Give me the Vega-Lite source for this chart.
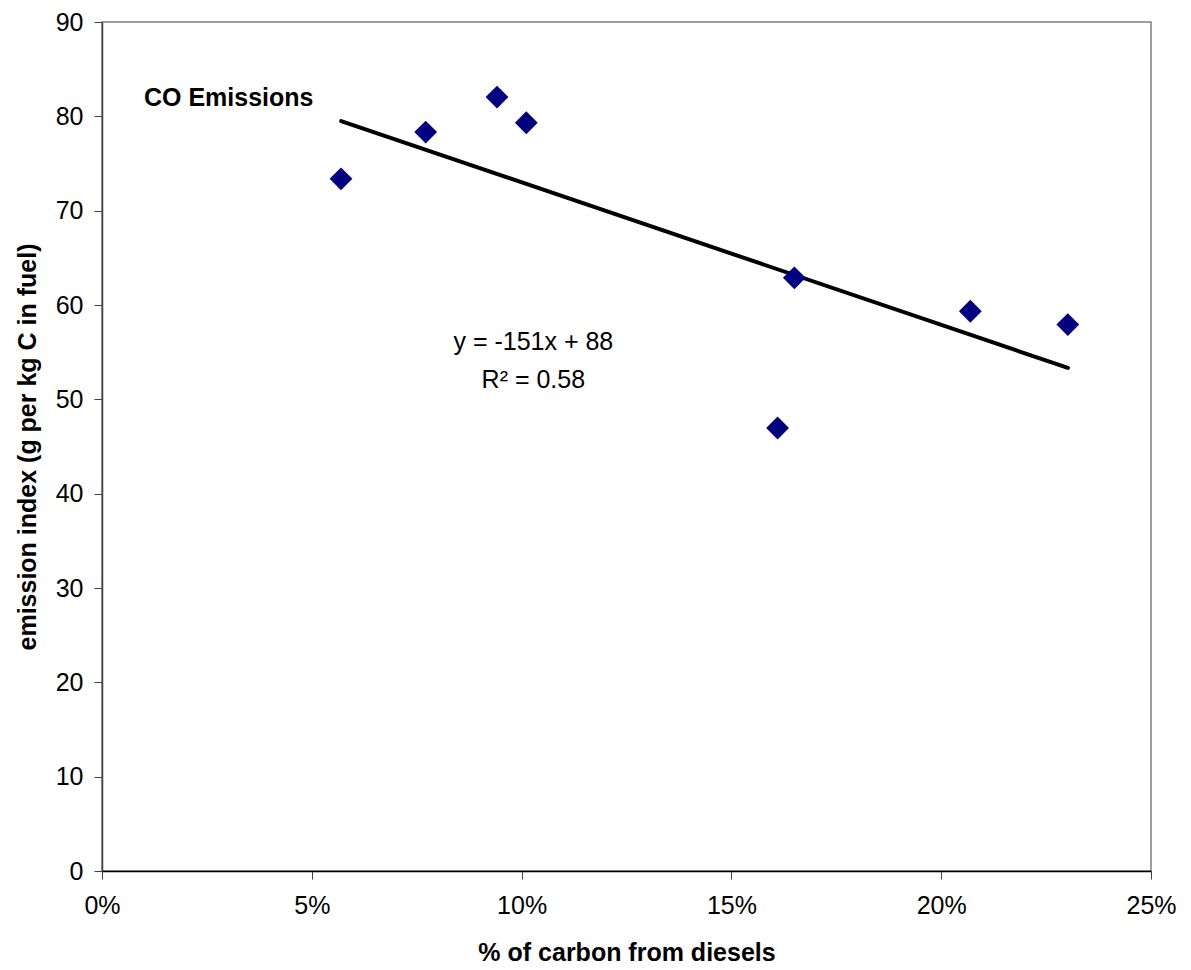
{
  "$schema": "https://vega.github.io/schema/vega-lite/v6.json",
  "width": 1049,
  "height": 849,
  "autosize": {"type": "none"},
  "padding": {"left": 102, "top": 22, "right": 40, "bottom": 99},
  "background": "white",
  "config": {
    "font": "Liberation Sans",
    "view": {"stroke": "#808080", "strokeWidth": 1.5},
    "axis": {"grid": false, "labelFont": "Liberation Sans", "titleFont": "Liberation Sans", "labelFontSize": 25, "titleFontSize": 25, "labelColor": "black", "titleColor": "black", "tickSize": 8, "tickColor": "#404040", "labelFontWeight": "normal", "titleFontWeight": "bold", "labelFlush": false}
  },
  "datasets": {
    "points": [
      {"share": 0.05696, "ei": 73.38},
      {"share": 0.07714, "ei": 78.33},
      {"share": 0.09414, "ei": 82.04},
      {"share": 0.10112, "ei": 79.32},
      {"share": 0.16500, "ei": 62.88},
      {"share": 0.16101, "ei": 46.96},
      {"share": 0.20694, "ei": 59.34},
      {"share": 0.23017, "ei": 57.92}
    ],
    "trend": [
      {"share": 0.0570, "ei": 79.5},
      {"share": 0.2302, "ei": 53.33}
    ],
    "labels": [
      {"share": 0.0100, "ei": 81.1, "txt": "CO Emissions", "kind": "title"},
      {"share": 0.1028, "ei": 55.2, "txt": "y = -151x + 88", "kind": "eq"},
      {"share": 0.1028, "ei": 51.2, "txt": "R² = 0.58", "kind": "eq"}
    ]
  },
  "layer": [
    {
      "data": {"name": "trend"},
      "mark": {"type": "line", "color": "black", "strokeWidth": 4, "strokeCap": "round"},
      "encoding": {
        "x": {"field": "share", "type": "quantitative", "scale": {"domain": [0, 0.25], "nice": false, "zero": false},
          "axis": {"title": "% of carbon from diesels", "format": ".0%", "values": [0, 0.05, 0.1, 0.15, 0.2, 0.25], "domainColor": "black", "domainWidth": 1.5, "labelPadding": 14, "titleY": 89, "titleBaseline": "alphabetic"}},
        "y": {"field": "ei", "type": "quantitative", "scale": {"domain": [0, 90], "nice": false},
          "axis": {"title": "emission index (g per kg C in fuel)", "values": [0, 10, 20, 30, 40, 50, 60, 70, 80, 90], "domainColor": "#404040", "domainWidth": 1.5, "labelPadding": 11, "titleX": -67, "titleY": 424.5, "titleAngle": -90, "titleBaseline": "alphabetic", "titleAlign": "center"}}
      }
    },
    {
      "data": {"name": "points"},
      "mark": {"type": "point", "shape": "diamond", "filled": true, "color": "#000080", "size": 520, "opacity": 1},
      "encoding": {
        "x": {"field": "share", "type": "quantitative"},
        "y": {"field": "ei", "type": "quantitative"}
      }
    },
    {
      "data": {"name": "labels"},
      "transform": [{"filter": "datum.kind == 'title'"}],
      "mark": {"type": "text", "align": "left", "baseline": "alphabetic", "fontSize": 25, "fontWeight": "bold", "color": "black", "font": "Liberation Sans"},
      "encoding": {
        "x": {"field": "share", "type": "quantitative"},
        "y": {"field": "ei", "type": "quantitative"},
        "text": {"field": "txt"}
      }
    },
    {
      "data": {"name": "labels"},
      "transform": [{"filter": "datum.kind == 'eq'"}],
      "mark": {"type": "text", "align": "center", "baseline": "alphabetic", "fontSize": 25, "color": "black", "font": "Liberation Sans"},
      "encoding": {
        "x": {"field": "share", "type": "quantitative"},
        "y": {"field": "ei", "type": "quantitative"},
        "text": {"field": "txt"}
      }
    }
  ]
}
